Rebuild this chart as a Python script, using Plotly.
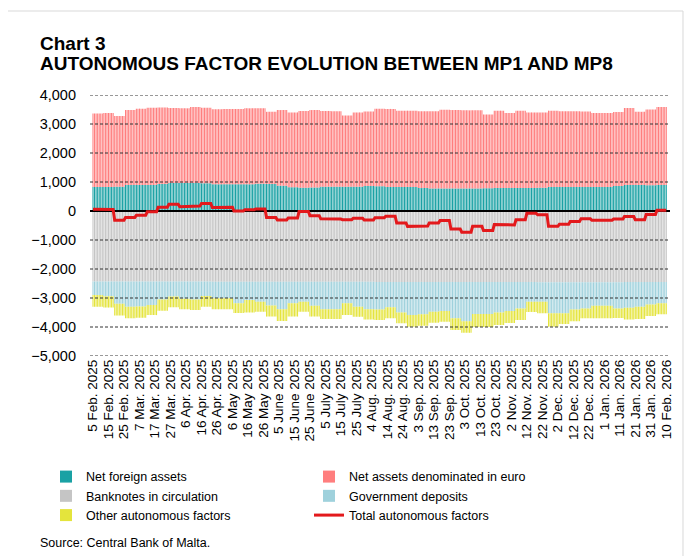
import numpy as np
import pandas as pd
import plotly.graph_objects as go

# Daily series held weekly (53 weeks of 7 days from 5 Feb. 2025), EUR millions
START_DATE = "2025-02-05"
DAYS_PER_STEP = 7

NET_FOREIGN_ASSETS = [
    830, 830, 840, 900, 900, 900, 930, 965, 965, 965, 960, 920, 920, 920, 920, 940, 930, 875,
    820, 805, 810, 840, 840, 840, 840, 865, 850, 830, 830, 830, 790, 780, 780, 780, 780, 780,
    785, 790, 790, 790, 795, 800, 830, 830, 830, 830, 830, 830, 860, 900, 900, 890, 900]

NET_ASSETS_EURO = [
    2530, 2550, 2440, 2580, 2630, 2660, 2640, 2585, 2575, 2620, 2600, 2590, 2600, 2600, 2620,
    2600, 2490, 2605, 2580, 2645, 2670, 2610, 2600, 2450, 2560, 2565, 2680, 2690, 2630, 2630,
    2650, 2660, 2710, 2700, 2690, 2690, 2545, 2670, 2590, 2670, 2605, 2600, 2630, 2610, 2610,
    2600, 2550, 2550, 2550, 2650, 2520, 2610, 2690]

BANKNOTES = [
    -2430, -2430, -2430, -2430, -2430, -2430, -2430, -2430, -2430, -2430, -2430,
    -2440, -2440, -2440, -2440, -2440, -2440, -2440, -2440, -2440, -2440, -2440, -2440, -2440,
    -2440, -2440, -2445, -2445, -2445, -2445, -2445, -2445, -2445, -2445, -2445, -2445, -2445,
    -2445, -2445, -2445, -2445, -2460, -2460, -2460, -2460, -2460, -2460, -2460, -2460,
    -2450, -2450, -2450, -2450]

GOVERNMENT_DEPOSITS = [
    -470, -510, -770, -870, -860, -810, -620, -520, -600, -620, -500, -570, -570, -740, -630,
    -690, -820, -950, -740, -690, -830, -950, -950, -740, -860, -950, -955, -875, -1055, -1145,
    -1115, -1025, -1005, -1255, -1355, -1105, -1105, -1055, -1005, -915, -685, -670, -1070,
    -1070, -940, -900, -810, -810, -900, -890, -850, -770, -730]

OTHER_FACTORS = [
    -400, -390, -400, -400, -390, -350, -390, -370, -360, -360, -370, -380, -380, -340, -430,
    -340, -380, -400, -460, -340, -370, -330, -330, -410, -350, -350, -360, -380, -370, -400,
    -400, -380, -370, -400, -400, -450, -450, -430, -410, -400, -350, -400, -460, -370, -400,
    -340, -430, -430, -330, -400, -420, -400, -380]

TICK_LABELS = [
    "5 Feb. 2025", "15 Feb. 2025", "25 Feb. 2025", "7 Mar. 2025", "17 Mar. 2025", "27 Mar. 2025",
    "6 Apr. 2025", "16 Apr. 2025", "26 Apr. 2025", "6 May 2025", "16 May 2025", "26 May 2025",
    "5 June 2025", "15 June 2025", "25 June 2025", "5 July 2025", "15 July 2025", "25 July 2025",
    "4 Aug. 2025", "14 Aug. 2025", "24 Aug. 2025", "3 Sep. 2025", "13 Sep. 2025", "23 Sep. 2025",
    "3 Oct. 2025", "13 Oct. 2025", "23 Oct. 2025", "2 Nov. 2025", "12 Nov. 2025", "22 Nov. 2025",
    "2 Dec. 2025", "12 Dec. 2025", "22 Dec. 2025", "1 Jan. 2026", "11 Jan. 2026", "21 Jan. 2026",
    "31 Jan. 2026", "10 Feb. 2026"]

Y_TICKS = [4000, 3000, 2000, 1000, 0, -1000, -2000, -3000, -4000, -5000]


def daily(values):
    return np.repeat(np.array(values), DAYS_PER_STEP)


dates = pd.date_range(START_DATE, periods=len(NET_FOREIGN_ASSETS) * DAYS_PER_STEP, freq="D")
nfa = daily(NET_FOREIGN_ASSETS)
nae = daily(NET_ASSETS_EURO)
bn = daily(BANKNOTES)
gov = daily(GOVERNMENT_DEPOSITS)
oth = daily(OTHER_FACTORS)
total = nfa + nae + bn + gov + oth

font = "Liberation Sans, Arial, sans-serif"
x_start = dates[0] - pd.Timedelta(hours=46.5)
x_end = dates[-1] + pd.Timedelta(hours=57.5)

# alpha just below 1 keeps thin bars on whole pixels, so the white gaps stay visible
fig = go.Figure()
fig.add_trace(go.Bar(x=dates, y=nfa, name="Net foreign assets", marker_color="rgba(23,160,163,0.99)", marker_line_width=0))
fig.add_trace(go.Bar(x=dates, y=nae, name="Net assets denominated in euro", marker_color="rgba(255,124,124,0.99)", marker_line_width=0))
fig.add_trace(go.Bar(x=dates, y=bn, name="Banknotes in circulation", marker_color="rgba(196,196,196,0.99)", marker_line_width=0))
fig.add_trace(go.Bar(x=dates, y=gov, name="Government deposits", marker_color="rgba(158,208,220,0.99)", marker_line_width=0))
fig.add_trace(go.Bar(x=dates, y=oth, name="Other autonomous factors", marker_color="rgba(228,228,58,0.99)", marker_line_width=0))
fig.add_trace(go.Scatter(x=[x_start, x_end], y=[0, 0], mode="lines", line=dict(color="black", width=2),
                         showlegend=False, hoverinfo="skip"))
fig.add_trace(go.Scatter(x=dates, y=total, mode="lines", name="Total autonomous factors",
                         line=dict(color="#E3191C", width=3)))

# page body adds an 8px margin, so the figure is 16px smaller than the window
fig.update_layout(
    width=688, height=548,
    margin=dict(l=82, r=26, t=87, b=200),
    paper_bgcolor="white", plot_bgcolor="white",
    font=dict(family=font, color="black", size=12.5),
    barmode="relative", bargap=0.3,
    legend=dict(orientation="h", x=-0.0759, y=-0.406, xanchor="left", yanchor="top",
                entrywidth=218, entrywidthmode="pixels", font=dict(size=12.5), traceorder="normal",
                bgcolor="rgba(0,0,0,0)"),
    showlegend=True,
)

fig.update_xaxes(type="date", range=[x_start, x_end], tickvals=dates[::10], ticktext=TICK_LABELS,
                 tickangle=-90, tickfont=dict(size=13.5), showgrid=False, showline=False,
                 zeroline=False, ticks="")
fig.update_yaxes(range=[-5000, 4000], tickvals=Y_TICKS, tickformat=",d", showgrid=False,
                 zeroline=False, showline=False, ticks="", tickfont=dict(size=14.5), ticklabelstandoff=13)

# dashed gridlines drawn over the bars, as in the original
for v in Y_TICKS:
    if v != 0:
        fig.add_shape(type="line", xref="paper", yref="y", x0=0, x1=1, y0=v, y1=v, layer="above",
                      line=dict(color="#333333", width=1, dash="3px,2px"))

fig.add_annotation(text="<b>Chart 3</b>", xref="paper", yref="paper", x=-0.0897, y=1.1992,
                   xanchor="left", yanchor="middle", showarrow=False, font=dict(size=19))
fig.add_annotation(text="<b>AUTONOMOUS FACTOR EVOLUTION BETWEEN MP1 AND MP8</b>", xref="paper", yref="paper",
                   x=-0.0897, y=1.1207, xanchor="left", yanchor="middle", showarrow=False, font=dict(size=19))
fig.add_annotation(text="Source: Central Bank of Malta.", xref="paper", yref="paper", x=-0.0897, y=-0.7165,
                   xanchor="left", yanchor="middle", showarrow=False, font=dict(size=12.5))

# light frame around the chart
fig.add_shape(type="line", xref="paper", yref="paper", x0=-0.16, x1=1.0224, y0=1.3218, y1=1.3218,
              line=dict(color="#D9D9D9", width=1))
fig.add_shape(type="line", xref="paper", yref="paper", x0=1.0224, x1=1.0224, y0=1.3218, y1=-0.78,
              line=dict(color="#D9D9D9", width=1))

fig.write_html("out.html")
